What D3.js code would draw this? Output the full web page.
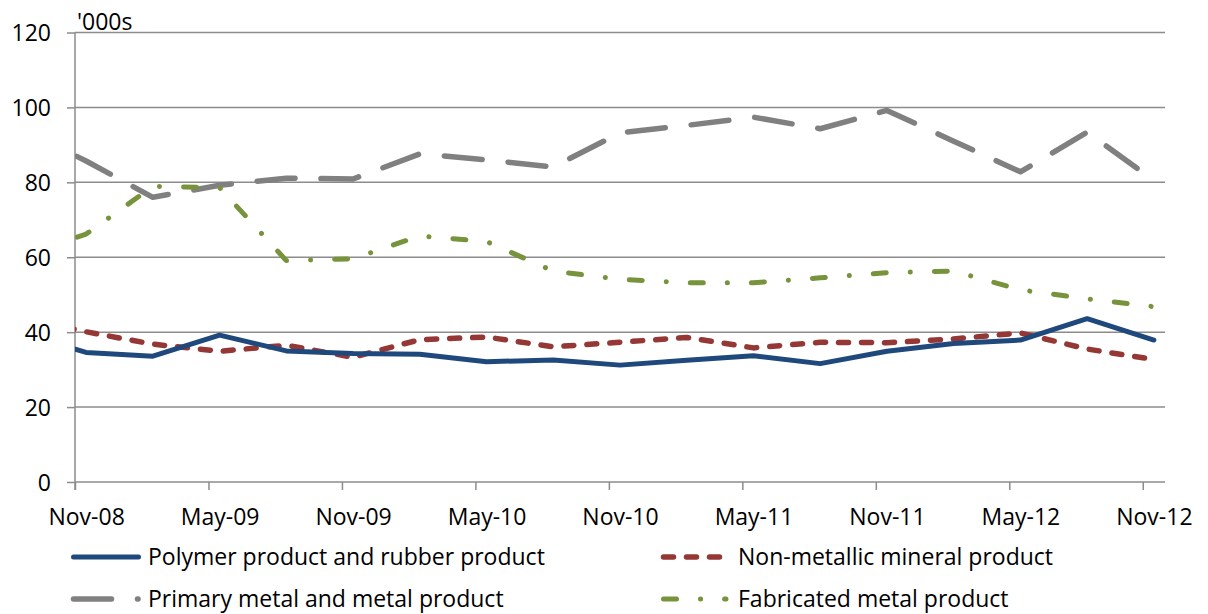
<!DOCTYPE html>
<html>
<head>
<meta charset="utf-8">
<script src="https://cdn.jsdelivr.net/npm/d3@7"></script>
<style>
  html, body { margin: 0; padding: 0; background: #fff; }
  svg { display: block; font-family: "Open Sans", Lato, sans-serif; }
</style>
</head>
<body>
<svg id="chart" width="1208" height="614"></svg>
<script>
// ---- data (thousands) ----
const months = ["Aug-08","Nov-08","Feb-09","May-09","Aug-09","Nov-09","Feb-10","May-10","Aug-10","Nov-10","Feb-11","May-11","Aug-11","Nov-11","Feb-12","May-12","Aug-12","Nov-12"];
const polymer    = [40.0, 34.6, 33.6, 39.2, 35.0, 34.3, 34.1, 32.1, 32.6, 31.2, 32.5, 33.7, 31.6, 34.9, 37.0, 37.9, 43.6, 37.9];
const nonMetallic= [44.0, 40.1, 36.8, 34.9, 36.5, 33.3, 38.0, 38.7, 36.1, 37.3, 38.6, 35.8, 37.3, 37.2, 38.2, 39.8, 35.5, 32.7];
const primary    = [94.5, 85.7, 76.0, 79.2, 81.1, 80.9, 87.6, 86.0, 84.1, 93.2, 95.2, 97.4, 94.3, 99.2, 91.0, 82.8, 93.4, 80.5];
const fabricated = [60.0, 66.2, 78.9, 78.6, 59.1, 59.6, 65.7, 64.2, 56.3, 54.1, 53.2, 53.2, 54.5, 55.9, 56.3, 51.3, 48.9, 46.8];
const seriesNames = ["Polymer product and rubber product","Non-metallic mineral product","Primary metal and metal product","Fabricated metal product"];
const xTickLabels = ["Nov-08","May-09","Nov-09","May-10","Nov-10","May-11","Nov-11","May-12","Nov-12"];
const yTicks = [0,20,40,60,80,100,120];
const unitLabel = "'000s";

// ---- layout ----
const svg = d3.select("#chart");
const pLeft = 75, pRight = 1165, pTop = 32.5, pBottom = 482;
const FONT = "'Open Sans', Lato, sans-serif";
const FS = 23;
const parse = d3.timeParse("%b-%y");
const axisStart = parse("Nov-08");
const axisEnd = d3.timeMonth.offset(parse("Nov-12"), 1);
const nMonths = d3.timeMonth.count(axisStart, axisEnd); // 49
const x = d3.scaleLinear().domain([0, nMonths]).range([pLeft, pRight]);
const mIdx = s => d3.timeMonth.count(axisStart, parse(s));
const y = d3.scaleLinear().domain([0, 120]).range([pBottom, pTop]);

const gridColor = "#8c8c8c";

// gridlines
svg.append("g").selectAll("line").data(yTicks.filter(d => d > 0)).join("line")
  .attr("x1", pLeft).attr("x2", pRight)
  .attr("y1", d => y(d)).attr("y2", d => y(d))
  .attr("stroke", gridColor).attr("stroke-width", 1.5);

// y axis
const yAxis = svg.append("g").attr("transform", `translate(${pLeft},0)`)
  .call(d3.axisLeft(y).tickValues(yTicks).tickSize(8).tickPadding(16).tickFormat(d3.format("d")));
yAxis.select(".domain").remove();
yAxis.selectAll(".tick line").attr("stroke", gridColor).attr("stroke-width", 1.5);
yAxis.selectAll(".tick text").attr("font-size", FS).attr("fill", "#000").attr("font-family", FONT).attr("dy", "0.36em");
svg.append("line").attr("x1", pLeft).attr("x2", pLeft).attr("y1", pTop).attr("y2", pBottom + 8)
  .attr("stroke", gridColor).attr("stroke-width", 1.5);

// x axis
const tickMonths = xTickLabels.map(mIdx);
const xAxis = svg.append("g").attr("transform", `translate(0,${pBottom})`)
  .call(d3.axisBottom(x).tickValues(tickMonths).tickSize(8)
    .tickFormat((d, i) => xTickLabels[i]));
xAxis.select(".domain").attr("stroke", gridColor).attr("stroke-width", 1.5).attr("d", `M${pLeft},0H${pRight}`);
xAxis.selectAll(".tick line").attr("stroke", gridColor).attr("stroke-width", 1.5);
xAxis.selectAll(".tick text").attr("font-size", FS).attr("fill", "#000").attr("font-family", FONT)
  .attr("y", 43).attr("dy", null).attr("x", x(0.5) - x(0));

// unit label
svg.append("text").attr("x", 77).attr("y", 30).attr("font-size", FS).attr("fill", "#000").text(unitLabel);

// clip
svg.append("clipPath").attr("id", "plotclip").append("rect")
  .attr("x", pLeft).attr("y", 0).attr("width", pRight - pLeft).attr("height", pBottom + 10);

const styles = [
  { data: polymer,     color: "#1F497D", width: 5,   dash: null,          cap: "round" },
  { data: nonMetallic, color: "#953735", width: 5.5, dash: "10,13",       cap: "round" },
  { data: primary,     color: "#808080", width: 5.5, dash: "38,26",       cap: "round" },
  { data: fabricated,  color: "#77933C", width: 5,   dash: "13,24,0.1,24", cap: "round" }
];

const line = d3.line().x(d => x(d.m + 0.5)).y(d => y(d.v));
const plot = svg.append("g").attr("clip-path", "url(#plotclip)");
[2, 3, 1, 0].forEach(i => {
  const s = styles[i];
  const pts = months.map((m, j) => ({ m: mIdx(m), v: s.data[j] }));
  plot.append("path").attr("d", line(pts)).attr("fill", "none")
    .attr("stroke", s.color).attr("stroke-width", s.width)
    .attr("stroke-linecap", s.cap).attr("stroke-linejoin", "round")
    .attr("stroke-dasharray", s.dash);
});

// legend
const legendPos = [
  { x: 73.5, x2: 138.5, tx: 148, y: 557 },
  { x: 663.5, x2: 719.5, tx: 738, y: 557 },
  { x: 73.5, x2: 138, tx: 148, y: 599 },
  { x: 663.5, x2: 726, tx: 738, y: 599 }
];
const lg = svg.append("g");
seriesNames.forEach((name, i) => {
  const s = styles[i], p = legendPos[i];
  lg.append("line").attr("x1", p.x).attr("x2", p.x2).attr("y1", p.y).attr("y2", p.y)
    .attr("stroke", s.color).attr("stroke-width", s.width)
    .attr("stroke-linecap", s.cap).attr("stroke-dasharray", s.dash);
  lg.append("text").attr("x", p.tx).attr("y", p.y).attr("dy", "0.36em")
    .attr("font-size", FS).attr("fill", "#000").text(name);
});
</script>
</body>
</html>
